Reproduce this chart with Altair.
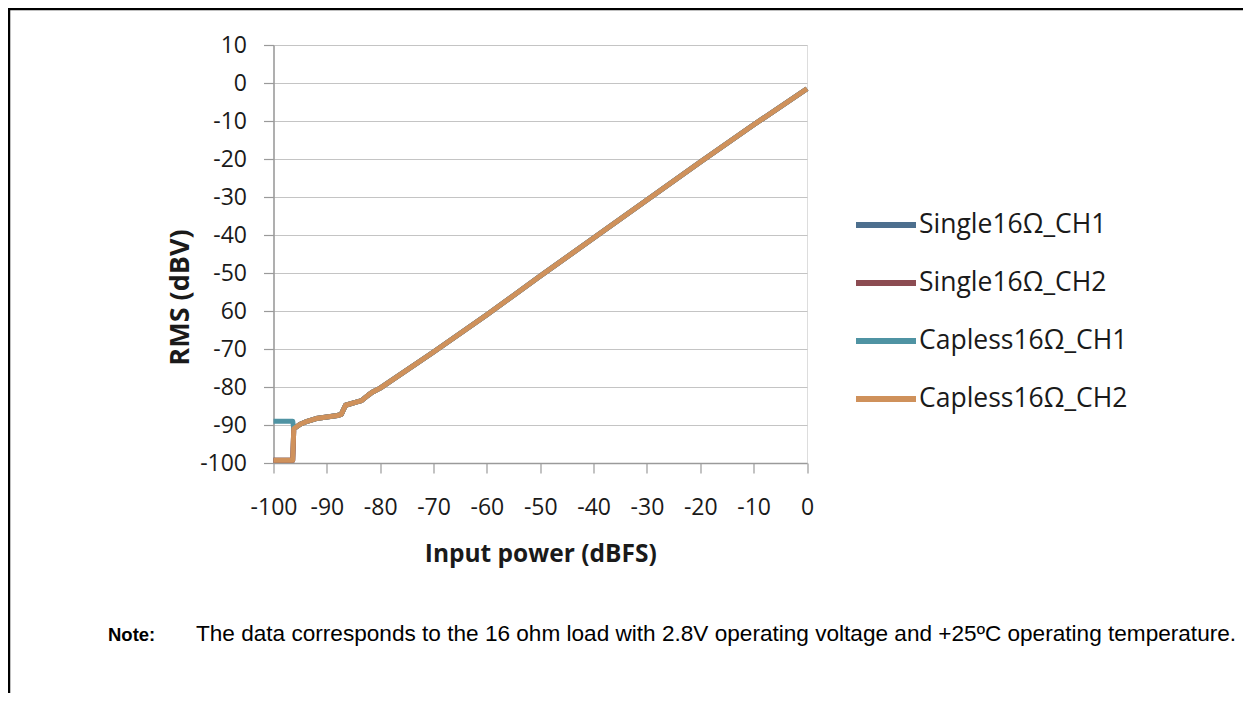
import altair as alt
import pandas as pd

# ---- data ----
series = ["Single16Ω_CH1", "Single16Ω_CH2", "Capless16Ω_CH1", "Capless16Ω_CH2"]
colors = ["#4d6f8e", "#8c4c52", "#4f93a3", "#cf915b"]

x_pts = [-100, -96.4, -96.2, -95, -94, -92, -90, -88, -87.3, -86.5, -84.5, -83.5,
         -82.3, -81.5, -80, -70, -60, -50, -40, -30, -20, -10, 0]
y_single_ch1 = [-99.3, -99.3, -91.0, -89.8, -89.2, -88.3, -87.9, -87.5, -87.2, -84.8, -84.0, -83.6,
                -82.2, -81.4, -80.3, -70.8, -61.0, -50.8, -40.8, -30.8, -20.8, -11.0, -1.5]
y_single_ch2 = [-99.3, -99.3, -91.0, -89.8, -89.2, -88.3, -87.9, -87.5, -87.2, -84.8, -84.0, -83.6,
                -82.2, -81.4, -80.3, -70.8, -61.0, -50.8, -40.8, -30.8, -20.8, -11.0, -1.5]
y_capless_ch1 = [-89.0, -89.0, -91.0, -89.8, -89.2, -88.3, -87.9, -87.5, -87.2, -84.8, -84.0, -83.6,
                 -82.2, -81.4, -80.3, -70.8, -61.0, -50.8, -40.8, -30.8, -20.8, -11.0, -1.5]
y_capless_ch2 = [-99.3, -99.3, -91.0, -89.8, -89.2, -88.3, -87.9, -87.5, -87.2, -84.8, -84.0, -83.6,
                 -82.2, -81.4, -80.3, -70.8, -61.0, -50.8, -40.8, -30.8, -20.8, -11.0, -1.5]

x_ticks = [-100, -90, -80, -70, -60, -50, -40, -30, -20, -10, 0]
y_ticks = [10, 0, -10, -20, -30, -40, -50, -60, -70, -80, -90, -100]

note_label = "Note:"
note_text = "The data corresponds to the 16 ohm load with 2.8V operating voltage and +25ºC operating temperature."

rows = []
for name, ys in zip(series, [y_single_ch1, y_single_ch2, y_capless_ch1, y_capless_ch2]):
    for i, (x, y) in enumerate(zip(x_pts, ys)):
        rows.append({"series": name, "x": x, "y": y, "order": i})
df = pd.DataFrame(rows)

W, H = 533.5, 418
PAD_L, PAD_T = 265.5, 37
FONT = "Open Sans"

lines = alt.Chart(df).mark_line(strokeWidth=5, strokeCap="butt", strokeJoin="round").encode(
    x=alt.X("x:Q", scale=alt.Scale(domain=[-100, 0], nice=False),
            axis=alt.Axis(values=x_ticks, title="Input power (dBFS)", grid=False,
                          labelExpr="'' + datum.value", labelOverlap=False, labelFlush=False,
                          tickSize=10, tickColor="#9a9a9a", domainColor="#9a9a9a",
                          domainWidth=1.5, tickWidth=1.2, labelPadding=23,
                          labelFont=FONT, labelFontSize=23, labelColor="#1a1a1a",
                          titleFont=FONT, titleFontSize=24.5, titleFontWeight="bold",
                          titleColor="#1a1a1a", titleBaseline="alphabetic", titleY=98)),
    y=alt.Y("y:Q", scale=alt.Scale(domain=[-100, 10], nice=False),
            axis=alt.Axis(values=y_ticks, title="RMS (dBV)", grid=True, gridColor="#c4c4c4",
                          gridWidth=1.2, tickSize=10, tickColor="#9a9a9a", domainColor="#9a9a9a",
                          domainWidth=1.5, tickWidth=1.2, labelPadding=17, labelOverlap=False,
                          labelFlush=False,
                          labelExpr="datum.value == -60 ? '60' : '' + datum.value",
                          labelFont=FONT, labelFontSize=23, labelColor="#1a1a1a",
                          titleFont=FONT, titleFontSize=27, titleFontWeight="bold",
                          titleColor="#1a1a1a", titleAngle=270, titleBaseline="alphabetic",
                          titleX=-85, titleY=252, titleAlign="center")),
    color=alt.Color("series:N", scale=alt.Scale(domain=series, range=colors),
                    sort=series,
                    legend=alt.Legend(title=None, orient="none", legendX=579.5, legendY=147,
                                      symbolType="stroke", symbolSize=3600, symbolStrokeWidth=6,
                                      labelFont=FONT, labelFontSize=26.5, labelColor="#1a1a1a",
                                      labelOffset=0, rowPadding=11, labelLimit=400)),
    detail="series:N",
    order="order:Q",
)

box = pd.DataFrame({"k": [0]})
top_border = alt.Chart(box).mark_rule(color="black", strokeWidth=2.5).encode(
    x=alt.value(-PAD_L), x2=alt.value(1235 - PAD_L), y=alt.value(-PAD_T + 1), y2=alt.value(-PAD_T + 1))
left_border = alt.Chart(box).mark_rule(color="black", strokeWidth=2.5).encode(
    x=alt.value(-PAD_L + 1), x2=alt.value(-PAD_L + 1), y=alt.value(-PAD_T), y2=alt.value(685 - PAD_T))

note_a = alt.Chart(pd.DataFrame({"t": [note_label]})).mark_text(
    font="Liberation Sans", fontSize=18.5, fontWeight="bold", align="left", baseline="alphabetic",
    color="#000000").encode(text="t:N", x=alt.value(108 - 8 - PAD_L), y=alt.value(641 - 8 - PAD_T))
note_b = alt.Chart(pd.DataFrame({"t": [note_text]})).mark_text(
    font="Liberation Sans", fontSize=22.6, align="left", baseline="alphabetic",
    color="#000000").encode(text="t:N", x=alt.value(196 - 8 - PAD_L), y=alt.value(641 - 8 - PAD_T))

chart = alt.layer(lines, top_border, left_border, note_a, note_b).properties(
    width=W, height=H,
    padding={"left": PAD_L, "top": PAD_T, "right": 1235 - PAD_L - W, "bottom": 685 - PAD_T - H},
    autosize=alt.AutoSizeParams(type="none"),
).configure_view(stroke=None).configure(background="white")

chart.save("out.html", embed_options={"renderer": "svg", "actions": False})
